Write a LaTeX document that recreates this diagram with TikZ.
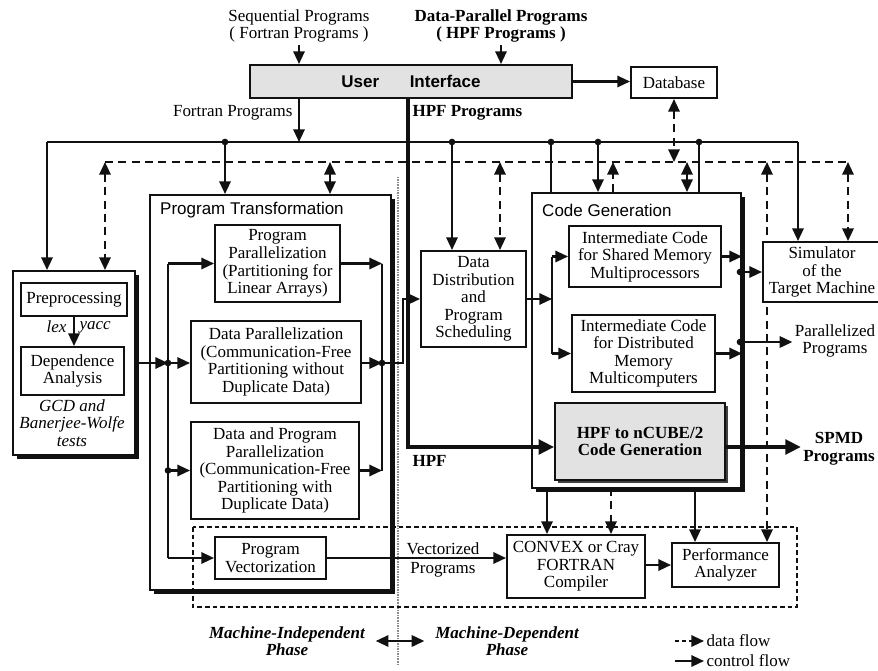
\documentclass[tikz,border=0pt]{standalone}
\usepackage{fontspec}
\setmainfont{Liberation Serif}
\setsansfont{Liberation Sans}
\usepackage{xcolor}
\definecolor{cInk}{HTML}{111111}
\definecolor{cShade}{HTML}{E2E2E2}
\definecolor{cRule}{HTML}{8C8C8C}
\usepackage{tikz}
\usetikzlibrary{positioning,arrows.meta,shadows,backgrounds}
\newcommand{\figfont}{\fontsize{14.5}{15}\selectfont}
\tikzset{
  px/.style 2 args={minimum width=#1*0.3mm,minimum height=#2*0.3mm},
  node-box/.style={draw=cInk,line width=1.7pt,fill=white,inner sep=0pt,
    align=center,font=\figfont},
  node-group/.style={node-box,drop shadow={shadow xshift=1.3mm,
    shadow yshift=-1.3mm,fill=cInk,opacity=1}},
  node-shade/.style={node-box,fill=cShade},
  node-core/.style={node-shade,font=\figfont\bfseries,drop shadow={
    shadow xshift=0.9mm,shadow yshift=-0.9mm,fill=black!75,opacity=1}},
  label-plain/.style={inner sep=2pt,align=center,font=\figfont},
  label-bold/.style={label-plain,font=\figfont\bfseries},
  label-it/.style={label-plain,font=\figfont\itshape},
  label-phase/.style={label-plain,font=\figfont\bfseries\itshape},
  title-sans/.style={inner sep=0pt,font=\figfont\sffamily},
  bus/.style={line width=1.8pt,draw=cInk},
  bus-data/.style={bus,dash pattern=on 2.4mm off 1.6mm},
  arrow/.style={-{Triangle[length=3.8mm,width=3.4mm]},line width=1.8pt,draw=cInk},
  arrow-both/.style={{Triangle[length=3.8mm,width=3.4mm]}-{Triangle[length=3.8mm,width=3.4mm]},
    line width=1.8pt,draw=cInk},
  arrow-data/.style={arrow,dash pattern=on 2.4mm off 1.6mm},
  arrow-data-both/.style={arrow-both,dash pattern=on 2.4mm off 1.6mm},
  arrow-heavy/.style={-{Triangle[length=4.6mm,width=4.4mm]},line width=2.8pt,draw=cInk},
  dot/.style={fill=cInk},
  phase-frame/.style={draw=cInk,line width=1.1pt,dash pattern=on 1.4mm off 0.9mm},
  phase-rule/.style={draw=cRule,line width=2.4pt,dash pattern=on 0.7pt off 0.7pt},
}

\begin{document}
\begin{tikzpicture}[x=0.3mm,y=-0.3mm,font=\figfont]
  \useasboundingbox (0,0) rectangle (878,670);
  % inputs, user interface, database
  \node[label-plain] (seq-in) at (299,26) {Sequential Programs\\( Fortran Programs )};
  \node[label-bold] (hpf-in) at (501,26) {Data-Parallel Programs\\( HPF Programs )};
  \node[node-shade,px={322}{33},font=\figfont\sffamily\bfseries] (ui) at (411,81.5)
    {User\hspace{1.8em}Interface};
  \node[node-box,px={86}{31}] (db) at (674,82.5) {Database};
  \node[label-plain,anchor=east] (fortran-lbl) at (295,113) {Fortran Programs};
  \node[label-bold,anchor=west] (hpf-lbl) at (410,113) {HPF Programs};

  % control bus and data bus
  \coordinate (bus-l) at (47,142);
  \coordinate (bus-r) at (798,142);
  \coordinate (bus-f) at (299,142);
  \coordinate (bus-a) at (225,142);
  \coordinate (bus-b) at (452,142);
  \coordinate (bus-c) at (551,142);
  \coordinate (bus-d) at (598,142);
  \coordinate (bus-e) at (699,142);
  \coordinate (dbus-l) at (105,162);
  \coordinate (dbus-r) at (848,162);
  \coordinate (dbus-a) at (330,162);
  \coordinate (dbus-b) at (500,162);
  \coordinate (dbus-c) at (613,162);
  \coordinate (dbus-d) at (687,162);
  \coordinate (dbus-e) at (767,162);
  \coordinate (hpf-turn) at (408,447);

  % front end
  \node[node-group,px={122}{184}] (grp) at (74,363) {};
  \node[node-box,px={106}{33}] (prep) at (74,299.5) {Preprocessing};
  \node[node-box,px={103}{48}] (dep) at (72.5,371) {Dependence\\Analysis};
  \node[label-it,anchor=east] (lex) at (69,327) {lex};
  \node[label-it,anchor=west] (yacc) at (77,327) {yacc};
  \node[label-it] (tests) at (72,423) {GCD and\\Banerjee-Wolfe\\tests};

  % program transformation
  \node[node-group,px={241}{395}] (pt) at (270.5,392.5) {};
  \node[title-sans,anchor=west] (pt-title) at (160,210) {Program Transformation};
  \node[node-box,px={125}{77}] (pp) at (277.5,263.5)
    {Program\\Parallelization\\(Partitioning for\\Linear Arrays)};
  \node[node-box,px={170}{82}] (dp) at (276,362)
    {Data Parallelization\\(Communication-Free\\Partitioning without\\Duplicate Data)};
  \node[node-box,px={168}{97}] (dpp) at (275,470.5)
    {Data and Program\\Parallelization\\(Communication-Free\\Partitioning with\\Duplicate Data)};
  \node[node-box,px={111}{42}] (pv) at (270.5,558) {Program\\Vectorization};
  \coordinate (pt-in) at (168,363);
  \coordinate (pt-out) at (382,363);
  \coordinate (pt-up) at (403,363);

  % scheduling and code generation
  \node[node-box,px={105}{96}] (dd) at (473.5,299)
    {Data\\Distribution\\and\\Program\\Scheduling};
  \node[node-group,px={209}{295}] (cg) at (636.5,340.5) {};
  \node[title-sans,anchor=west] (cg-title) at (542,210) {Code Generation};
  \node[node-box,px={152}{61}] (is) at (645,256.5)
    {Intermediate Code\\for Shared Memory\\Multiprocessors};
  \node[node-box,px={143}{77}] (id) at (643.5,353.5)
    {Intermediate Code\\for Distributed\\Memory\\Multicomputers};
  \node[node-core,px={170}{77}] (hn) at (640,441.5) {HPF to nCUBE/2\\Code Generation};
  \coordinate (cg-in) at (552,299);
  \coordinate (cg-sim) at (740,272);
  \coordinate (cg-par) at (740,342);
  \coordinate (cg-a) at (547,488);
  \coordinate (cg-b) at (611,488);
  \coordinate (cg-c) at (695,488);

  % outputs and back end
  \node[node-box,px={118}{60}] (sim) at (822,272) {Simulator\\of the\\Target Machine};
  \node[label-plain] (par) at (835,341) {Parallelized\\Programs};
  \node[label-bold] (spmd) at (839,449) {SPMD\\Programs};
  \node[label-bold,anchor=west] (hpf-tag) at (410,461) {HPF};
  \node[node-box,px={138}{63}] (cx) at (576,566.5) {CONVEX or Cray\\FORTRAN\\Compiler};
  \node[node-box,px={107}{44}] (pa) at (725.5,565) {Performance\\Analyzer};
  \node[label-plain,anchor=south,inner sep=1pt] (vec-top) at (443,556) {Vectorized};
  \node[label-plain,anchor=north,inner sep=1pt] (vec-bot) at (443,561) {Programs};
  \coordinate (frame-nw) at (193,527);
  \coordinate (frame-se) at (797,607);
  \coordinate (rule-top) at (398,177);
  \coordinate (rule-bot) at (398,665);

  % phases and legend
  \node[label-phase] (mi) at (287,641) {Machine-Independent\\Phase};
  \node[label-phase] (md) at (507,641) {Machine-Dependent\\Phase};
  \node[label-plain,anchor=west] (leg-data) at (704,641) {data flow};
  \node[label-plain,anchor=west] (leg-ctrl) at (704,661) {control flow};
  \coordinate (leg-d0) at (675,641);
  \coordinate (leg-c0) at (675,661);

  % top connectors
  \draw[arrow] (seq-in) -- (seq-in |- ui.north);
  \draw[arrow] (hpf-in) -- (hpf-in |- ui.north);
  \draw[arrow] (ui.east) -- (ui.east -| db.west);
  \draw[arrow-data-both] (db.south) -- (db.south |- dbus-l);
  \draw[arrow] (ui.south -| bus-f) -- (bus-f);
  \draw[arrow-heavy] (ui.south -| hpf-turn) -- (hpf-turn) -- (hpf-turn -| hn.west);

  % control bus
  \draw[bus] (bus-l) -- (bus-r);
  \draw[arrow] (bus-l) -- (bus-l |- grp.north);
  \draw[arrow] (bus-r) -- (bus-r |- sim.north);
  \draw[arrow] (bus-a) -- (bus-a |- pt.north);
  \draw[arrow] (bus-b) -- (bus-b |- dd.north);
  \draw[bus] (bus-c) -- (bus-c |- cg.north);
  \draw[arrow] (bus-d) -- (bus-d |- cg.north);
  \draw[bus] (bus-e) -- (bus-e |- cg.north);
  \foreach \j in {a,...,e} \fill[dot] (bus-\j) circle (1mm);

  % data bus
  \draw[bus-data] (dbus-l) -- (dbus-r);
  \draw[arrow-data-both] (dbus-l) -- (dbus-l |- grp.north);
  \draw[arrow-data-both] (dbus-a) -- (dbus-a |- pt.north);
  \draw[arrow-data-both] (dbus-b) -- (dbus-b |- dd.north);
  \draw[arrow-data] (dbus-c |- cg.north) -- (dbus-c);
  \draw[arrow-both] (dbus-d) -- (dbus-d |- cg.north);
  \draw[arrow-data-both] (dbus-r) -- (dbus-r |- sim.north);
  \begin{scope}[on background layer]
    \draw[arrow-data-both] (dbus-e) -- (dbus-e |- pa.north);
    \draw[phase-rule] (rule-top) -- (rule-bot);
  \end{scope}

  % front end and transformation
  \draw[arrow] (prep.south) -- (prep.south |- dep.north);
  \draw[arrow] (grp.east |- pt-in) -- (pt-in);
  \draw[bus] (pt-in |- pp.west) -- (pt-in |- pv.west);
  \draw[arrow] (pt-in |- pp.west) -- (pp.west);
  \draw[arrow] (pt-in) -- (pt-in -| dp.west);
  \draw[arrow] (pt-in |- dpp.west) -- (dpp.west);
  \draw[arrow] (pt-in |- pv.west) -- (pv.west);
  \draw[bus] (pt-out |- pp.east) -- (pt-out |- dpp.east);
  \draw[arrow] (pp.east) -- (pp.east -| pt-out);
  \draw[arrow] (dp.east |- pt-out) -- (pt-out);
  \draw[arrow] (dpp.east) -- (dpp.east -| pt-out);
  \draw[arrow] (pt-out) -- (pt-up) |- (dd.west);
  \fill[dot] (pt-in) circle (1mm);
  \fill[dot] (pt-in |- dpp.west) circle (1mm);
  \fill[dot] (pt-out) circle (1mm);

  % code generation
  \draw[arrow] (dd.east |- cg-in) -- (cg-in);
  \draw[bus] (cg-in |- is.west) -- (cg-in |- id.west);
  \draw[arrow] (cg-in |- is.west) -- (is.west);
  \draw[arrow] (cg-in |- id.west) -- (id.west);
  \draw[arrow] (is.east) -- (is.east -| cg.east);
  \draw[arrow] (id.east) -- (id.east -| cg.east);
  \draw[arrow] (cg-sim) -- (cg-sim -| sim.west);
  \draw[arrow] (cg-par) -- (cg-par -| par.west);
  \fill[dot] (cg-sim) circle (1mm);
  \fill[dot] (cg-par) circle (1mm);
  \draw[arrow-heavy] (hn.east |- hpf-turn) -- (spmd.west |- hpf-turn);

  % back end
  \draw[arrow] (cg-a) -- (cg-a |- cx.north);
  \draw[arrow-data] (cg-b) -- (cg-b |- cx.north);
  \draw[arrow] (cg-c) -- (cg-c |- pa.north);
  \draw[arrow] (pv.east) -- (pv.east -| cx.west);
  \draw[arrow] (cx.east |- pa.west) -- (pa.west);
  \draw[phase-frame] (frame-nw) rectangle (frame-se);

  % phases and legend
  \draw[arrow-both,shorten <=2.5mm,shorten >=2.5mm] (mi.east) -- (md.west);
  \draw[arrow-data,dash pattern=on 1.2mm off 0.9mm] (leg-d0) -- (leg-data.west);
  \draw[arrow] (leg-c0) -- (leg-ctrl.west);
\end{tikzpicture}
\end{document}
